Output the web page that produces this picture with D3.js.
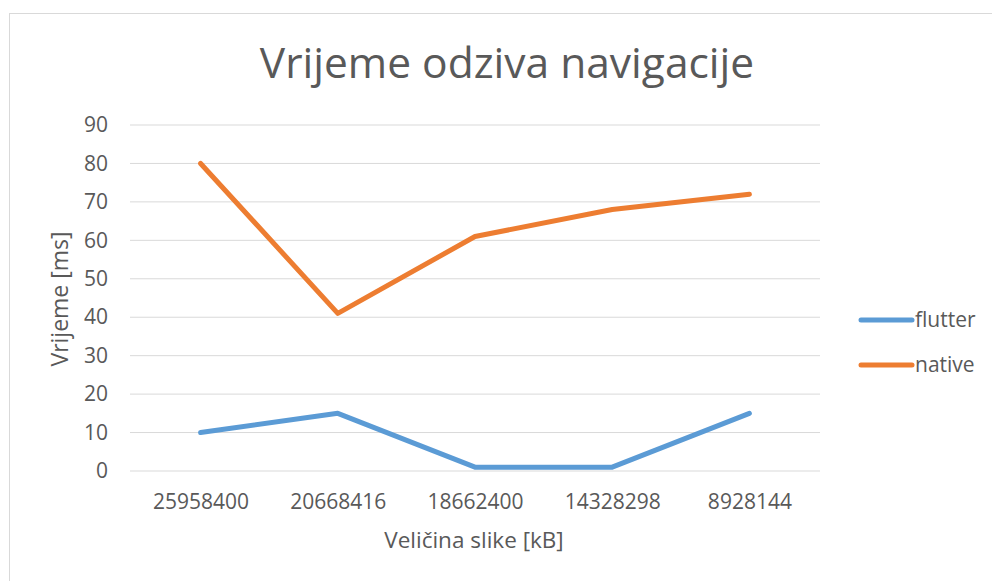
<!DOCTYPE html>
<html>
<head>
<meta charset="utf-8">
<script src="https://cdn.jsdelivr.net/npm/d3@7"></script>
<style>
  body { margin: 0; background: #fff; }
  text { font-family: "Open Sans", sans-serif; fill: #595959; }
</style>
</head>
<body>
<svg id="chart" width="992" height="581"></svg>
<script>
const categories = ["25958400", "20668416", "18662400", "14328298", "8928144"];
const flutter = [10, 15, 1, 1, 15];
const native = [80, 41, 61, 68, 72];
const yTicks = [0, 10, 20, 30, 40, 50, 60, 70, 80, 90];
const seriesNames = ["flutter", "native"];
const seriesColors = ["#5B9BD5", "#ED7D31"];

const svg = d3.select("#chart");
const margin = {top: 125, right: 174, bottom: 110, left: 132};
const width = 992 - margin.left - margin.right;
const height = 581 - margin.top - margin.bottom;

// outer chart border
svg.append("rect")
    .attr("x", 9.5).attr("y", 13.5)
    .attr("width", 992).attr("height", 600)
    .attr("fill", "none")
    .attr("stroke", "#d9d9d9");

const g = svg.append("g")
    .attr("transform", "translate(" + margin.left + "," + margin.top + ")");

const x = d3.scalePoint().domain(categories).range([0, width]).padding(0.5);
const y = d3.scaleLinear().domain([0, 90]).range([height, 0]);

// gridlines
g.append("g")
    .selectAll("line")
    .data(yTicks)
    .join("line")
    .attr("x1", -2).attr("x2", width + 2)
    .attr("y1", d => y(d)).attr("y2", d => y(d))
    .attr("stroke", "#d9d9d9")
    .attr("stroke-width", 1);

// y axis labels
const yAxis = g.append("g")
    .call(d3.axisLeft(y).tickValues(yTicks).tickSize(0).tickPadding(24));
yAxis.select(".domain").remove();
yAxis.selectAll("text").style("font-size", "21px").attr("fill", "#595959");

// x axis labels
const xAxis = g.append("g")
    .attr("transform", "translate(0," + height + ")")
    .call(d3.axisBottom(x).tickSize(0).tickPadding(23));
xAxis.select(".domain").remove();
xAxis.selectAll("text").style("font-size", "21px").attr("fill", "#595959");

// lines
const line = d3.line()
    .x((d, i) => x(categories[i]))
    .y(d => y(d));

[flutter, native].forEach((s, i) => {
    g.append("path")
        .datum(s)
        .attr("fill", "none")
        .attr("stroke", seriesColors[i])
        .attr("stroke-width", 5)
        .attr("stroke-linecap", "round")
        .attr("stroke-linejoin", "round")
        .attr("d", line);
});

// title
svg.append("text")
    .attr("x", 507).attr("y", 78)
    .attr("text-anchor", "middle")
    .style("font-size", "42.5px")
    .text("Vrijeme odziva navigacije");

// axis titles
svg.append("text")
    .attr("x", 474).attr("y", 548)
    .attr("text-anchor", "middle")
    .style("font-size", "22.5px")
    .text("Veličina slike [kB]");

svg.append("text")
    .attr("transform", "translate(68," + (margin.top + height / 2 + 1) + ") rotate(-90)")
    .attr("text-anchor", "middle")
    .style("font-size", "23px")
    .text("Vrijeme [ms]");

// legend
const legend = svg.append("g");
seriesNames.forEach((name, i) => {
    const ly = 320 + i * 45;
    legend.append("line")
        .attr("x1", 861).attr("x2", 912)
        .attr("y1", ly).attr("y2", ly)
        .attr("stroke", seriesColors[i])
        .attr("stroke-width", 5)
        .attr("stroke-linecap", "round");
    legend.append("text")
        .attr("x", 915).attr("y", ly + 7)
        .style("font-size", "21px")
        .text(name);
});
</script>
</body>
</html>
